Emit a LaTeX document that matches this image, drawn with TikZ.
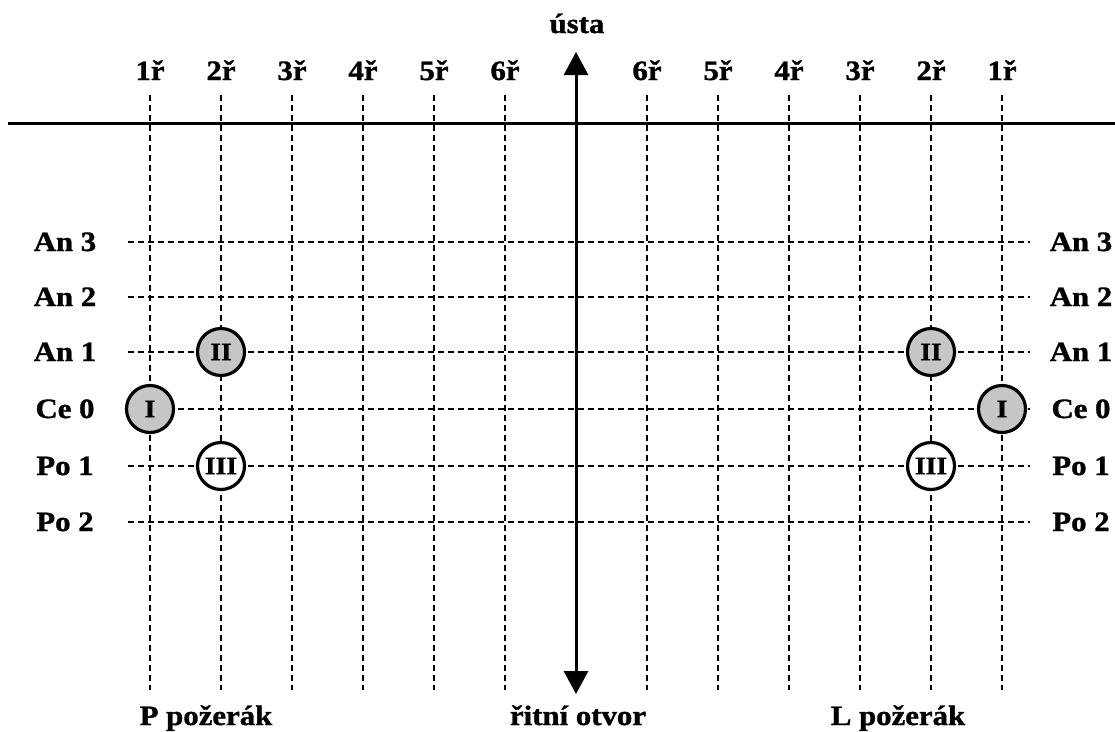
\documentclass[tikz,border=0pt]{standalone}
\usepackage{fontspec}
\setmainfont{Liberation Serif}[FakeStretch=1.1, BoldFeatures={FakeBold=1.2}]
\usetikzlibrary{arrows.meta}
\begin{document}
\begin{tikzpicture}[x=1pt,y=-1pt,
  lbl/.style={font=\bfseries\fontsize{28}{30}\selectfont, inner sep=0pt, anchor=base},
  gridline/.style={dash pattern=on 6pt off 4pt, line width=1.4pt},
  axis/.style={line width=3pt},
  cell/.style={circle, draw, line width=3.2pt, minimum size=47pt, inner sep=0pt,
    font=\bfseries\fontsize{25}{26}\selectfont},
  shaded/.style={cell, fill=gray!45},
  hollow/.style={cell, fill=white}]
\useasboundingbox (0,0) rectangle (1115,731);

% vertical rays, left and right halves
\foreach \n/\x in {1/150,2/221,3/292,4/363,5/434,6/505}{
  \node[lbl] (pl\n) at (\x,80) {\n ř};
  \coordinate (plt\n) at (\x,95);
  \coordinate (plb\n) at (\x,690);
  \draw[gridline] (plt\n) -- (plb\n);
}
\foreach \n/\x in {6/647,5/718,4/789,3/860,2/931,1/1002}{
  \node[lbl] (pr\n) at (\x,80) {\n ř};
  \coordinate (prt\n) at (\x,95);
  \coordinate (prb\n) at (\x,690);
  \draw[gridline] (prt\n) -- (prb\n);
}

% horizontal rows
\foreach \r/\y/\t in {a3/242/An 3, a2/297/An 2, a1/352/An 1, c0/409/Ce 0, p1/466/Po 1, p2/522/Po 2}{
  \node[lbl] (l\r) at (65,\y+9) {\t};
  \node[lbl] (r\r) at (1081,\y+9) {\t};
  \coordinate (ls\r) at (128,\y);
  \coordinate (le\r) at (1030,\y);
  \draw[gridline] (ls\r) -- (le\r);
}

% main transverse line
\coordinate (hl) at (8,123);
\coordinate (hr) at (1115,123);
\draw[axis] (hl) -- (hr);

% oral-aboral axis
\node[lbl] (mouth) at (577,33) {ústa};
\node[lbl] (anus) at (578,725) {řitní otvor};
\coordinate (axtop) at (576,52);
\coordinate (axbot) at (576,694);
\draw[axis, {Triangle[width=24pt,length=23pt]}-{Triangle[width=24pt,length=23pt]}] (axtop) -- (axbot);

\node[lbl] (pp) at (206,725) {P požerák};
\node[lbl] (lp) at (898,725) {L požerák};

% pharyngeal plates
\node[shaded] (pI) at (150,409) {I};
\node[shaded] (pII) at (221,352) {II};
\node[hollow] (pIII) at (221,466) {III};
\node[shaded] (qI) at (1002,409) {I};
\node[shaded] (qII) at (931,352) {II};
\node[hollow] (qIII) at (931,466) {III};
\end{tikzpicture}
\end{document}
